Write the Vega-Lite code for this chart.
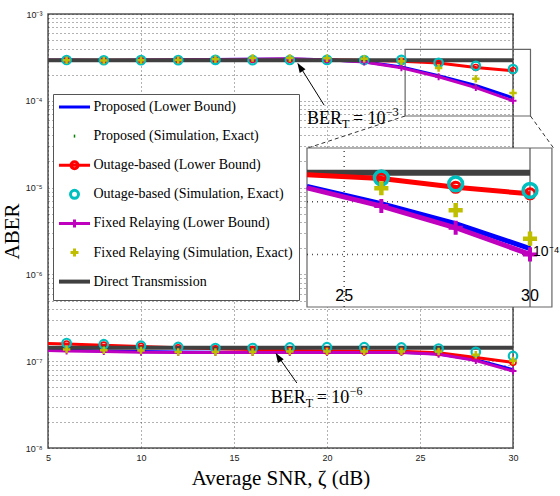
{
  "$schema": "https://vega.github.io/schema/vega-lite/v6.json",
  "width": 465,
  "height": 434,
  "autosize": {"type": "none"},
  "padding": {"left": 48, "top": 14, "right": 47, "bottom": 48},
  "background": "white",
  "config": {
    "view": {"stroke": "#555", "strokeWidth": 1.5},
    "axis": {"domain": false, "ticks": false, "grid": true, "gridDash": [1, 3], "gridColor": "#222", "gridOpacity": 0.7, "gridWidth": 1, "labelFont": "Liberation Sans", "labelFontSize": 9, "labelColor": "#222", "titleFont": "Liberation Serif", "titleFontSize": 21, "titleFontWeight": "normal", "titleColor": "#000"},
    "text": {"font": "Liberation Serif", "color": "#000"}
  },
  "datasets": {
    "curves": [
      {"grp": "hi", "snr": 5, "Proposed (Lower Bound)": 2.93e-4, "Outage-based (Lower Bound)": 2.93e-4, "Fixed Relaying (Lower Bound)": 2.93e-4, "Direct Transmission": 2.93e-4},
      {"grp": "hi", "snr": 6, "Proposed (Lower Bound)": 2.93e-4, "Proposed (Simulation, Exact)": 2.93e-4, "Outage-based (Lower Bound)": 2.94e-4, "Outage-based (Simulation, Exact)": 2.95e-4, "Fixed Relaying (Lower Bound)": 2.93e-4, "Fixed Relaying (Simulation, Exact)": 2.93e-4, "Direct Transmission": 2.93e-4},
      {"grp": "hi", "snr": 8, "Proposed (Lower Bound)": 2.92e-4, "Proposed (Simulation, Exact)": 2.92e-4, "Outage-based (Lower Bound)": 2.93e-4, "Outage-based (Simulation, Exact)": 2.93e-4, "Fixed Relaying (Lower Bound)": 2.92e-4, "Fixed Relaying (Simulation, Exact)": 2.92e-4, "Direct Transmission": 2.93e-4},
      {"grp": "hi", "snr": 10, "Proposed (Lower Bound)": 2.93e-4, "Proposed (Simulation, Exact)": 2.93e-4, "Outage-based (Lower Bound)": 2.94e-4, "Outage-based (Simulation, Exact)": 2.94e-4, "Fixed Relaying (Lower Bound)": 2.93e-4, "Fixed Relaying (Simulation, Exact)": 2.93e-4, "Direct Transmission": 2.93e-4},
      {"grp": "hi", "snr": 12, "Proposed (Lower Bound)": 2.95e-4, "Proposed (Simulation, Exact)": 2.95e-4, "Outage-based (Lower Bound)": 2.95e-4, "Outage-based (Simulation, Exact)": 2.94e-4, "Fixed Relaying (Lower Bound)": 2.95e-4, "Fixed Relaying (Simulation, Exact)": 2.95e-4, "Direct Transmission": 2.93e-4},
      {"grp": "hi", "snr": 14, "Proposed (Lower Bound)": 2.99e-4, "Proposed (Simulation, Exact)": 2.99e-4, "Outage-based (Lower Bound)": 2.98e-4, "Outage-based (Simulation, Exact)": 2.96e-4, "Fixed Relaying (Lower Bound)": 2.99e-4, "Fixed Relaying (Simulation, Exact)": 3.02e-4, "Direct Transmission": 2.93e-4},
      {"grp": "hi", "snr": 16, "Proposed (Lower Bound)": 3.02e-4, "Proposed (Simulation, Exact)": 3.02e-4, "Outage-based (Lower Bound)": 3.0e-4, "Outage-based (Simulation, Exact)": 2.94e-4, "Fixed Relaying (Lower Bound)": 3.02e-4, "Fixed Relaying (Simulation, Exact)": 3.12e-4, "Direct Transmission": 2.93e-4},
      {"grp": "hi", "snr": 18, "Proposed (Lower Bound)": 3.04e-4, "Proposed (Simulation, Exact)": 3.04e-4, "Outage-based (Lower Bound)": 3.01e-4, "Outage-based (Simulation, Exact)": 2.95e-4, "Fixed Relaying (Lower Bound)": 3.04e-4, "Fixed Relaying (Simulation, Exact)": 3.12e-4, "Direct Transmission": 2.93e-4},
      {"grp": "hi", "snr": 20, "Proposed (Lower Bound)": 2.98e-4, "Proposed (Simulation, Exact)": 2.98e-4, "Outage-based (Lower Bound)": 2.98e-4, "Outage-based (Simulation, Exact)": 2.96e-4, "Fixed Relaying (Lower Bound)": 2.97e-4, "Fixed Relaying (Simulation, Exact)": 3.1e-4, "Direct Transmission": 2.93e-4},
      {"grp": "hi", "snr": 22, "Proposed (Lower Bound)": 2.82e-4, "Proposed (Simulation, Exact)": 2.82e-4, "Outage-based (Lower Bound)": 2.93e-4, "Outage-based (Simulation, Exact)": 2.95e-4, "Fixed Relaying (Lower Bound)": 2.8e-4, "Fixed Relaying (Simulation, Exact)": 3.05e-4, "Direct Transmission": 2.93e-4},
      {"grp": "hi", "snr": 24, "Proposed (Lower Bound)": 2.45e-4, "Proposed (Simulation, Exact)": 2.45e-4, "Outage-based (Lower Bound)": 2.85e-4, "Outage-based (Simulation, Exact)": 2.96e-4, "Fixed Relaying (Lower Bound)": 2.4e-4, "Fixed Relaying (Simulation, Exact)": 2.85e-4, "Direct Transmission": 2.93e-4},
      {"grp": "hi", "snr": 26, "Proposed (Lower Bound)": 1.95e-4, "Proposed (Simulation, Exact)": 1.95e-4, "Outage-based (Lower Bound)": 2.72e-4, "Outage-based (Simulation, Exact)": 2.74e-4, "Fixed Relaying (Lower Bound)": 1.89e-4, "Fixed Relaying (Simulation, Exact)": 2.39e-4, "Direct Transmission": 2.93e-4},
      {"grp": "hi", "snr": 28, "Proposed (Lower Bound)": 1.5e-4, "Proposed (Simulation, Exact)": 1.5e-4, "Outage-based (Lower Bound)": 2.42e-4, "Outage-based (Simulation, Exact)": 2.53e-4, "Fixed Relaying (Lower Bound)": 1.42e-4, "Fixed Relaying (Simulation, Exact)": 1.79e-4, "Direct Transmission": 2.93e-4},
      {"grp": "hi", "snr": 30, "Proposed (Lower Bound)": 1.08e-4, "Proposed (Simulation, Exact)": 1.08e-4, "Outage-based (Lower Bound)": 2.22e-4, "Outage-based (Simulation, Exact)": 2.32e-4, "Fixed Relaying (Lower Bound)": 1.0e-4, "Fixed Relaying (Simulation, Exact)": 1.23e-4, "Direct Transmission": 2.93e-4},
      {"grp": "lo", "snr": 5, "Proposed (Lower Bound)": 1.36e-7, "Outage-based (Lower Bound)": 1.60e-7, "Fixed Relaying (Lower Bound)": 1.33e-7, "Direct Transmission": 1.43e-7},
      {"grp": "lo", "snr": 6, "Proposed (Lower Bound)": 1.34e-7, "Proposed (Simulation, Exact)": 1.34e-7, "Outage-based (Lower Bound)": 1.58e-7, "Outage-based (Simulation, Exact)": 1.62e-7, "Fixed Relaying (Lower Bound)": 1.31e-7, "Fixed Relaying (Simulation, Exact)": 1.36e-7, "Direct Transmission": 1.43e-7},
      {"grp": "lo", "snr": 8, "Proposed (Lower Bound)": 1.31e-7, "Proposed (Simulation, Exact)": 1.31e-7, "Outage-based (Lower Bound)": 1.53e-7, "Outage-based (Simulation, Exact)": 1.57e-7, "Fixed Relaying (Lower Bound)": 1.29e-7, "Fixed Relaying (Simulation, Exact)": 1.34e-7, "Direct Transmission": 1.43e-7},
      {"grp": "lo", "snr": 10, "Proposed (Lower Bound)": 1.29e-7, "Proposed (Simulation, Exact)": 1.29e-7, "Outage-based (Lower Bound)": 1.48e-7, "Outage-based (Simulation, Exact)": 1.51e-7, "Fixed Relaying (Lower Bound)": 1.27e-7, "Fixed Relaying (Simulation, Exact)": 1.33e-7, "Direct Transmission": 1.43e-7},
      {"grp": "lo", "snr": 12, "Proposed (Lower Bound)": 1.28e-7, "Proposed (Simulation, Exact)": 1.28e-7, "Outage-based (Lower Bound)": 1.43e-7, "Outage-based (Simulation, Exact)": 1.46e-7, "Fixed Relaying (Lower Bound)": 1.26e-7, "Fixed Relaying (Simulation, Exact)": 1.28e-7, "Direct Transmission": 1.43e-7},
      {"grp": "lo", "snr": 14, "Proposed (Lower Bound)": 1.27e-7, "Proposed (Simulation, Exact)": 1.27e-7, "Outage-based (Lower Bound)": 1.39e-7, "Outage-based (Simulation, Exact)": 1.42e-7, "Fixed Relaying (Lower Bound)": 1.26e-7, "Fixed Relaying (Simulation, Exact)": 1.28e-7, "Direct Transmission": 1.43e-7},
      {"grp": "lo", "snr": 16, "Proposed (Lower Bound)": 1.27e-7, "Proposed (Simulation, Exact)": 1.27e-7, "Outage-based (Lower Bound)": 1.36e-7, "Outage-based (Simulation, Exact)": 1.42e-7, "Fixed Relaying (Lower Bound)": 1.26e-7, "Fixed Relaying (Simulation, Exact)": 1.28e-7, "Direct Transmission": 1.43e-7},
      {"grp": "lo", "snr": 18, "Proposed (Lower Bound)": 1.27e-7, "Proposed (Simulation, Exact)": 1.27e-7, "Outage-based (Lower Bound)": 1.33e-7, "Outage-based (Simulation, Exact)": 1.44e-7, "Fixed Relaying (Lower Bound)": 1.26e-7, "Fixed Relaying (Simulation, Exact)": 1.29e-7, "Direct Transmission": 1.43e-7},
      {"grp": "lo", "snr": 20, "Proposed (Lower Bound)": 1.27e-7, "Proposed (Simulation, Exact)": 1.27e-7, "Outage-based (Lower Bound)": 1.31e-7, "Outage-based (Simulation, Exact)": 1.45e-7, "Fixed Relaying (Lower Bound)": 1.26e-7, "Fixed Relaying (Simulation, Exact)": 1.29e-7, "Direct Transmission": 1.43e-7},
      {"grp": "lo", "snr": 22, "Proposed (Lower Bound)": 1.27e-7, "Proposed (Simulation, Exact)": 1.27e-7, "Outage-based (Lower Bound)": 1.30e-7, "Outage-based (Simulation, Exact)": 1.45e-7, "Fixed Relaying (Lower Bound)": 1.26e-7, "Fixed Relaying (Simulation, Exact)": 1.29e-7, "Direct Transmission": 1.43e-7},
      {"grp": "lo", "snr": 24, "Proposed (Lower Bound)": 1.27e-7, "Proposed (Simulation, Exact)": 1.27e-7, "Outage-based (Lower Bound)": 1.30e-7, "Outage-based (Simulation, Exact)": 1.44e-7, "Fixed Relaying (Lower Bound)": 1.26e-7, "Fixed Relaying (Simulation, Exact)": 1.29e-7, "Direct Transmission": 1.43e-7},
      {"grp": "lo", "snr": 26, "Proposed (Lower Bound)": 1.21e-7, "Proposed (Simulation, Exact)": 1.21e-7, "Outage-based (Lower Bound)": 1.25e-7, "Outage-based (Simulation, Exact)": 1.40e-7, "Fixed Relaying (Lower Bound)": 1.20e-7, "Fixed Relaying (Simulation, Exact)": 1.29e-7, "Direct Transmission": 1.43e-7},
      {"grp": "lo", "snr": 28, "Proposed (Lower Bound)": 1.04e-7, "Proposed (Simulation, Exact)": 1.04e-7, "Outage-based (Lower Bound)": 1.10e-7, "Outage-based (Simulation, Exact)": 1.28e-7, "Fixed Relaying (Lower Bound)": 1.02e-7, "Fixed Relaying (Simulation, Exact)": 1.19e-7, "Direct Transmission": 1.43e-7},
      {"grp": "lo", "snr": 30, "Proposed (Lower Bound)": 0.80e-7, "Proposed (Simulation, Exact)": 0.80e-7, "Outage-based (Lower Bound)": 0.97e-7, "Outage-based (Simulation, Exact)": 1.15e-7, "Fixed Relaying (Lower Bound)": 0.77e-7, "Fixed Relaying (Simulation, Exact)": 1.01e-7, "Direct Transmission": 1.43e-7}
    ],
    "annot": [
      {"snr": 18.92, "aber": 5.4e-5, "exp": "−3"},
      {"snr": 16.97, "aber": 3.3e-8, "exp": "−6"}
    ],
    "arrows": [
      {"snr": 19.84, "aber": 8.95e-5, "snr2": 18.45, "aber2": 2.68e-4},
      {"snr": 18.38, "aber": 5.61e-8, "snr2": 17.26, "aber2": 1.23e-7}
    ],
    "heads": [
      {"snr": 18.41, "aber": 2.72e-4},
      {"snr": 17.24, "aber": 1.24e-7}
    ],
    "conn": [
      {"snr": 24.2, "aber": 6.68e-5, "snr2": 18.97, "aber2": 2.86e-5},
      {"snr": 30.94, "aber": 6.68e-5, "snr2": 32.18, "aber2": 2.86e-5}
    ],
    "zoomrect": [
      {"snr": 24.2, "snr2": 30.94, "aber": 6.68e-5, "aber2": 3.92e-4}
    ],
    "insetbox": [
      {"snr": 24, "snr2": 30.59, "aber": 5e-5, "aber2": 4.06e-4}
    ],
    "insetgrid": [
      {"snr": 25, "snr2": 25, "aber": 5e-5, "aber2": 4.06e-4},
      {"snr": 24, "snr2": 30, "aber": 1e-4, "aber2": 1e-4},
      {"snr": 24, "snr2": 30, "aber": 2e-4, "aber2": 2e-4}
    ],
    "insetaxis": [
      {"snr": 30, "snr2": 30, "aber": 5e-5, "aber2": 4.06e-4}
    ],
    "insetticks": [
      {"snr": 25, "aber": 5.75e-5, "label": "25"},
      {"snr": 30, "aber": 5.75e-5, "label": "30"}
    ],
    "insetylab": [
      {"snr": 30, "aber": 1.03e-4, "label": "10⁻⁴"}
    ]
  },
  "layer": [
    {
      "encoding": {
        "x": {"field": "snr", "type": "quantitative", "scale": {"domain": [5, 30], "nice": false, "zero": false},
              "axis": {"values": [5, 10, 15, 20, 25, 30], "title": "Average SNR, ζ (dB)", "labelPadding": 5, "titlePadding": 5, "labelFlush": false}},
        "y": {"field": "aber", "type": "quantitative", "scale": {"type": "log", "domain": [1e-8, 1e-3], "nice": false},
              "axis": {"values": [1e-8, 2e-8, 3e-8, 4e-8, 5e-8, 6e-8, 7e-8, 8e-8, 9e-8, 1e-7, 2e-7, 3e-7, 4e-7, 5e-7, 6e-7, 7e-7, 8e-7, 9e-7, 1e-6, 2e-6, 3e-6, 4e-6, 5e-6, 6e-6, 7e-6, 8e-6, 9e-6, 1e-5, 2e-5, 3e-5, 4e-5, 5e-5, 6e-5, 7e-5, 8e-5, 9e-5, 1e-4, 2e-4, 3e-4, 4e-4, 5e-4, 6e-4, 7e-4, 8e-4, 9e-4, 1e-3],
                       "labelExpr": "abs(log(datum.value)/LN10 - round(log(datum.value)/LN10)) < 0.01 ? '10' + ['⁻⁸','⁻⁷','⁻⁶','⁻⁵','⁻⁴','⁻³'][round(log(datum.value)/LN10) + 8] : ''",
                       "title": "ABER", "labelOverlap": false, "labelPadding": 6, "titlePadding": 3, "labelFlush": false}}
      },
      "layer": [
        {"data": {"name": "zoomrect"}, "mark": {"type": "rect", "fillOpacity": 0, "stroke": "#666", "strokeWidth": 1.2}, "encoding": {"x2": {"field": "snr2"}, "y2": {"field": "aber2"}}},
        {"data": {"name": "curves"}, "transform": [{"fold": ["Proposed (Lower Bound)"], "as": ["series", "aber"]}, {"filter": "isValid(datum.aber)"}],
         "mark": {"type": "line", "strokeWidth": 3},
         "encoding": {"detail": {"field": "grp"},
           "color": {"field": "series", "type": "nominal",
             "scale": {"domain": ["Proposed (Lower Bound)", "Proposed (Simulation, Exact)", "Outage-based (Lower Bound)", "Outage-based (Simulation, Exact)", "Fixed Relaying (Lower Bound)", "Fixed Relaying (Simulation, Exact)", "Direct Transmission"],
                       "range": ["#0000ff", "#008000", "#ff0000", "#00bfbf", "#bf00bf", "#bfbf00", "#404040"]},
             "legend": {"orient": "none", "legendX": 5, "legendY": 80, "title": null, "direction": "vertical",
               "strokeColor": "#555", "fillColor": "white", "padding": 6,
               "labelFont": "Liberation Serif", "labelFontSize": 14, "labelColor": "#000", "labelLimit": 400, "labelOffset": 12, "symbolOffset": 8.5,
               "symbolSize": 100, "symbolStrokeWidth": 3, "symbolType": "M-3.1,-0.8L-3.1,-0.8M3.1,0.8L3.1,0.8M-3.1,0H3.1", "rowPadding": 5.1, "gridAlign": "all",
               "encode": {"symbols": {"update": {
                 "shape": {"signal": "'M-3.1,-0.8L-3.1,-0.8M3.1,0.8L3.1,0.8' + (datum.value === 'Proposed (Lower Bound)' ? 'M-3.1,0H3.1' : datum.value === 'Proposed (Simulation, Exact)' ? 'M-0.15,0H0.15' : datum.value === 'Outage-based (Lower Bound)' ? 'M-3.1,0H3.1M0.7,0A0.7,0.7,0,1,1,-0.7,0A0.7,0.7,0,1,1,0.7,0' : datum.value === 'Outage-based (Simulation, Exact)' ? 'M0.8,0A0.8,0.8,0,1,1,-0.8,0A0.8,0.8,0,1,1,0.8,0' : datum.value === 'Fixed Relaying (Lower Bound)' ? 'M-3.1,0H3.1M0,-0.8V0.8' : datum.value === 'Fixed Relaying (Simulation, Exact)' ? 'M-0.8,0H0.8M0,-0.8V0.8' : 'M-3.1,0H3.1')"},
                 "size": {"value": 100},
                 "stroke": {"signal": "scale('color', datum.value)"},
                 "fill": {"value": "transparent"},
                 "fillOpacity": {"value": 0},
                 "strokeOpacity": {"value": 1},
                 "strokeWidth": {"signal": "datum.value === 'Direct Transmission' ? 4 : 3"},
                 "opacity": {"value": 1}
               }}}
             }
           }
         }
        },
        {"data": {"name": "curves"}, "transform": [{"fold": ["Outage-based (Lower Bound)"], "as": ["series", "aber"]}, {"filter": "isValid(datum.aber)"}],
         "mark": {"type": "line", "strokeWidth": 3},
         "encoding": {"detail": {"field": "grp"}, "color": {"field": "series", "type": "nominal"}}},
        {"data": {"name": "curves"}, "transform": [{"fold": ["Fixed Relaying (Lower Bound)"], "as": ["series", "aber"]}, {"filter": "isValid(datum.aber)"}],
         "mark": {"type": "line", "strokeWidth": 3},
         "encoding": {"detail": {"field": "grp"}, "color": {"field": "series", "type": "nominal"}}},
        {"data": {"name": "curves"}, "transform": [{"fold": ["Direct Transmission"], "as": ["series", "aber"]}, {"filter": "isValid(datum.aber)"}],
         "mark": {"type": "line", "strokeWidth": 4},
         "encoding": {"detail": {"field": "grp"}, "color": {"field": "series", "type": "nominal"}}},
        {"data": {"name": "curves"}, "transform": [{"fold": ["Proposed (Simulation, Exact)"], "as": ["series", "aber"]}, {"filter": "isValid(datum.aber)"}],
         "mark": {"type": "point", "shape": "circle", "filled": true, "size": 8, "opacity": 1},
         "encoding": {"color": {"field": "series", "type": "nominal"}}},
        {"data": {"name": "curves"}, "transform": [{"fold": ["Outage-based (Lower Bound)"], "as": ["series", "aber"]}, {"filter": "isValid(datum.aber) && datum.snr >= 6"}],
         "mark": {"type": "point", "shape": "circle", "filled": false, "size": 36, "strokeWidth": 1.6, "opacity": 1},
         "encoding": {"color": {"field": "series", "type": "nominal"}}},
        {"data": {"name": "curves"}, "transform": [{"fold": ["Outage-based (Simulation, Exact)"], "as": ["series", "aber"]}, {"filter": "isValid(datum.aber)"}],
         "mark": {"type": "point", "shape": "circle", "filled": false, "size": 72, "strokeWidth": 2.2, "opacity": 1},
         "encoding": {"color": {"field": "series", "type": "nominal"}}},
        {"data": {"name": "curves"}, "transform": [{"fold": ["Fixed Relaying (Lower Bound)"], "as": ["series", "aber"]}, {"filter": "isValid(datum.aber) && datum.snr >= 6"}],
         "mark": {"type": "point", "shape": "M-1,0H1M0,-1V1", "filled": false, "size": 49, "strokeWidth": 2, "opacity": 1},
         "encoding": {"color": {"field": "series", "type": "nominal"}}},
        {"data": {"name": "curves"}, "transform": [{"fold": ["Fixed Relaying (Simulation, Exact)"], "as": ["series", "aber"]}, {"filter": "isValid(datum.aber)"}],
         "mark": {"type": "point", "shape": "M-1,0H1M0,-1V1", "filled": false, "size": 56, "strokeWidth": 2.5, "opacity": 1},
         "encoding": {"color": {"field": "series", "type": "nominal"}}},
        {"data": {"name": "conn"}, "mark": {"type": "rule", "strokeDash": [4, 3], "color": "#333", "strokeWidth": 1}, "encoding": {"x2": {"field": "snr2"}, "y2": {"field": "aber2"}}},
        {"data": {"name": "arrows"}, "mark": {"type": "rule", "color": "#000", "strokeWidth": 1}, "encoding": {"x2": {"field": "snr2"}, "y2": {"field": "aber2"}}},
        {"data": {"name": "heads"}, "mark": {"type": "point", "shape": "M0,0L-0.4,1.1L0.4,1.1Z", "filled": true, "color": "#000", "opacity": 1, "size": 300, "angle": 327}},
        {"data": {"name": "annot"}, "mark": {"type": "text", "align": "left", "baseline": "alphabetic", "fontSize": 18}, "encoding": {"text": {"value": "BER"}}},
        {"data": {"name": "annot"}, "mark": {"type": "text", "align": "left", "baseline": "alphabetic", "fontSize": 12, "dx": 35, "dy": 4}, "encoding": {"text": {"value": "T"}}},
        {"data": {"name": "annot"}, "mark": {"type": "text", "align": "left", "baseline": "alphabetic", "fontSize": 18, "dx": 46}, "encoding": {"text": {"value": "= 10"}}},
        {"data": {"name": "annot"}, "mark": {"type": "text", "align": "left", "baseline": "alphabetic", "fontSize": 12, "dx": 79, "dy": -8}, "encoding": {"text": {"field": "exp"}}}
      ]
    },
    {
      "encoding": {
        "x": {"field": "snr", "type": "quantitative", "scale": {"domain": [24, 30], "range": [259, 482], "nice": false, "zero": false}, "axis": null},
        "y": {"field": "aber", "type": "quantitative", "scale": {"type": "log", "domain": [5e-5, 4.06e-4], "range": [293, 134], "nice": false}, "axis": null}
      },
      "layer": [
        {"data": {"name": "insetbox"}, "mark": {"type": "rect", "fill": "white", "stroke": "#666", "strokeWidth": 1.2}, "encoding": {"x2": {"field": "snr2"}, "y2": {"field": "aber2"}}},
        {"data": {"name": "insetgrid"}, "mark": {"type": "rule", "strokeDash": [1, 4], "color": "#222", "strokeWidth": 1.5, "opacity": 0.8}, "encoding": {"x2": {"field": "snr2"}, "y2": {"field": "aber2"}}},
        {"data": {"name": "insetaxis"}, "mark": {"type": "rule", "color": "#555", "strokeWidth": 1.2}, "encoding": {"x2": {"field": "snr2"}, "y2": {"field": "aber2"}}},
        {"data": {"name": "curves"}, "transform": [{"fold": ["Direct Transmission"], "as": ["series", "aber"]}, {"filter": "isValid(datum.aber) && datum.grp === 'hi' && datum.snr >= 24"}],
         "mark": {"type": "line", "strokeWidth": 6}, "encoding": {"color": {"field": "series", "type": "nominal"}}},
        {"data": {"name": "curves"}, "transform": [{"fold": ["Proposed (Lower Bound)"], "as": ["series", "aber"]}, {"filter": "isValid(datum.aber) && datum.grp === 'hi' && datum.snr >= 24"}],
         "mark": {"type": "line", "strokeWidth": 5}, "encoding": {"color": {"field": "series", "type": "nominal"}}},
        {"data": {"name": "curves"}, "transform": [{"fold": ["Outage-based (Lower Bound)"], "as": ["series", "aber"]}, {"filter": "isValid(datum.aber) && datum.grp === 'hi' && datum.snr >= 24"}],
         "mark": {"type": "line", "strokeWidth": 5}, "encoding": {"color": {"field": "series", "type": "nominal"}}},
        {"data": {"name": "curves"}, "transform": [{"fold": ["Outage-based (Lower Bound)"], "as": ["series", "aber"]}, {"filter": "isValid(datum.aber) && datum.grp === 'hi' && datum.snr >= 26"}],
         "mark": {"type": "point", "shape": "circle", "filled": false, "size": 100, "strokeWidth": 3, "opacity": 1}, "encoding": {"color": {"field": "series", "type": "nominal"}}},
        {"data": {"name": "curves"}, "transform": [{"fold": ["Outage-based (Simulation, Exact)"], "as": ["series", "aber"]}, {"filter": "isValid(datum.aber) && datum.grp === 'hi' && datum.snr >= 26"}],
         "mark": {"type": "point", "shape": "circle", "filled": false, "size": 190, "strokeWidth": 3.5, "opacity": 1}, "encoding": {"color": {"field": "series", "type": "nominal"}}},
        {"data": {"name": "curves"}, "transform": [{"fold": ["Fixed Relaying (Lower Bound)"], "as": ["series", "aber"]}, {"filter": "isValid(datum.aber) && datum.grp === 'hi' && datum.snr >= 24"}],
         "mark": {"type": "line", "strokeWidth": 5}, "encoding": {"color": {"field": "series", "type": "nominal"}}},
        {"data": {"name": "curves"}, "transform": [{"fold": ["Fixed Relaying (Lower Bound)"], "as": ["series", "aber"]}, {"filter": "isValid(datum.aber) && datum.grp === 'hi' && datum.snr >= 26"}],
         "mark": {"type": "point", "shape": "M-1,0H1M0,-1V1", "filled": false, "size": 200, "strokeWidth": 4, "opacity": 1}, "encoding": {"color": {"field": "series", "type": "nominal"}}},
        {"data": {"name": "curves"}, "transform": [{"fold": ["Fixed Relaying (Simulation, Exact)"], "as": ["series", "aber"]}, {"filter": "isValid(datum.aber) && datum.grp === 'hi' && datum.snr >= 26"}],
         "mark": {"type": "point", "shape": "M-1,0H1M0,-1V1", "filled": false, "size": 200, "strokeWidth": 4.5, "opacity": 1}, "encoding": {"color": {"field": "series", "type": "nominal"}}},
        {"data": {"name": "insetticks"}, "mark": {"type": "text", "font": "Liberation Sans", "fontSize": 16, "align": "center", "baseline": "middle"}, "encoding": {"text": {"field": "label"}}},
        {"data": {"name": "insetylab"}, "mark": {"type": "text", "font": "Liberation Sans", "fontSize": 14, "align": "left", "baseline": "middle", "dx": 3}, "encoding": {"text": {"field": "label"}}}
      ]
    }
  ],
  "resolve": {"scale": {"x": "independent", "y": "independent"}}
}
